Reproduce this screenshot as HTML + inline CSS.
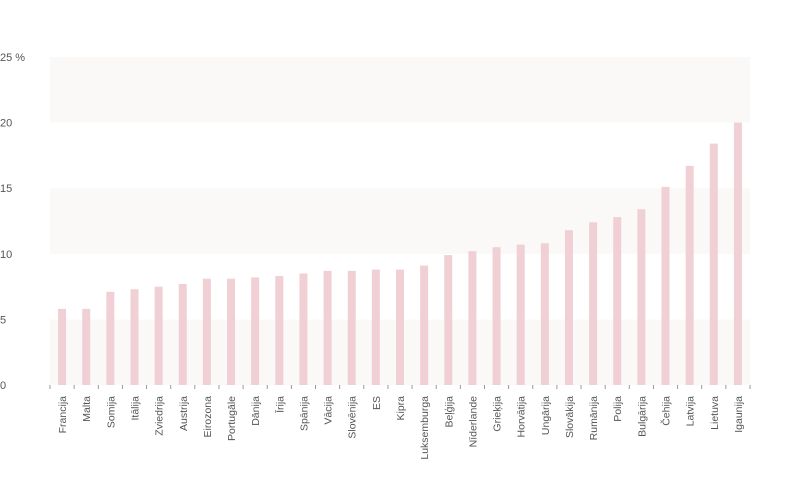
<!DOCTYPE html>
<html><head><meta charset="utf-8"><style>
body{margin:0;background:#fff;}
svg{font-family:"Liberation Sans",sans-serif;}
</style></head><body>
<svg id="chart" width="800" height="490" xmlns="http://www.w3.org/2000/svg"></svg>
<script>
const categories=["Francija","Malta","Somija","Itālija","Zviedrija","Austrija","Eirozona","Portugāle","Dānija","Īrija","Spānija","Vācija","Slovēnija","ES","Kipra","Luksemburga","Beļģija","Nīderlande","Grieķija","Horvātija","Ungārija","Slovākija","Rumānija","Polija","Bulgārija","Čehija","Latvija","Lietuva","Igaunija"];
const values=[5.8,5.8,7.1,7.3,7.5,7.7,8.1,8.1,8.2,8.3,8.5,8.7,8.7,8.8,8.8,9.1,9.9,10.2,10.5,10.7,10.8,11.8,12.4,12.8,13.4,15.1,16.7,18.4,20.0];
const yTicks=[0,5,10,15,20,25];
const yTickLabels=["0","5","10","15","20","25 %"];
const svg=document.getElementById('chart');
const NS="http://www.w3.org/2000/svg";
const x0=50,x1=750,yBase=385,yTop=57,yMax=25;
const bw=(x1-x0)/categories.length;
const y=v=>yBase-(v/yMax)*(yBase-yTop);
function mk(t,a){const e=document.createElementNS(NS,t);for(const k in a)e.setAttribute(k,a[k]);svg.appendChild(e);return e;}
for(let i=0;i<yTicks.length-1;i+=2){
 const r=mk('rect',{x:x0,y:y(yTicks[i+1]),width:x1-x0,height:y(yTicks[i])-y(yTicks[i+1]),fill:'#faf9f7'});
 
 
}
yTicks.forEach((t,i)=>{
 const tx=mk('text',{x:0,y:y(t)+4,'font-size':'11',fill:'#555'});
 tx.textContent=yTickLabels[i];
 
 
});
for(let i=0;i<=categories.length;i++){
 const tk=mk('line',{x1:x0+i*bw,x2:x0+i*bw,y1:yBase,y2:yBase+4,stroke:'#999','stroke-width':1});
 
 
}
categories.forEach((c,i)=>{
 const cx=x0+(i+0.5)*bw;
 const b=mk('rect',{x:cx-4,y:y(values[i]),width:8,height:yBase-y(values[i]),fill:'#f0d0d4'});
 
 
 const t=mk('text',{x:0,y:0,'font-size':'10.5',fill:'#555','text-anchor':'end',transform:`translate(${cx+4},396) rotate(-90)`});
 t.textContent=c;
 
 
});
</script>
</body></html>
